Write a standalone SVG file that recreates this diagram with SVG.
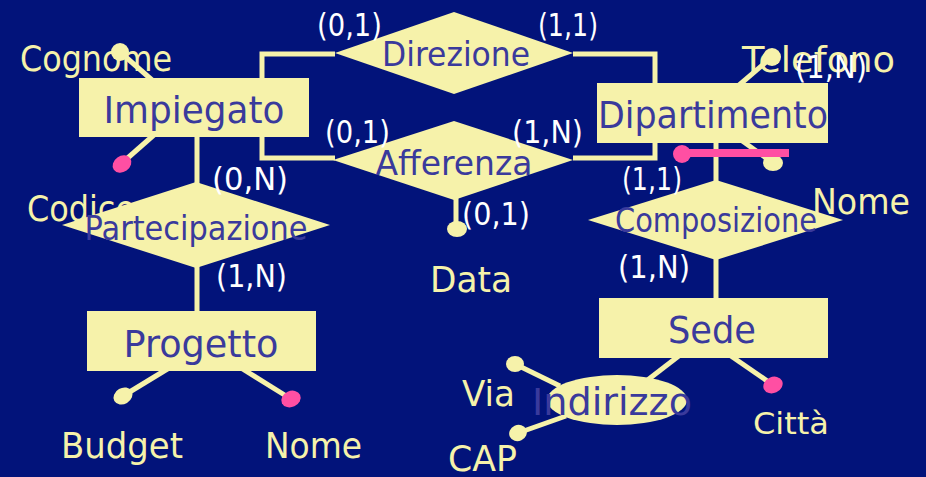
<svg xmlns="http://www.w3.org/2000/svg" width="926" height="477" viewBox="0 0 926 477">
<style>
.bg{fill:#02137a}
.ent{fill:#f6f2aa}
.rel{fill:#f6f2aa}
.ln{stroke:#f6f2aa;stroke-width:5;fill:none;stroke-linecap:butt}
.dot{fill:#f6f2aa}
.key{fill:#ff4fa3}
.keyln{stroke:#ff4fa3;stroke-width:8;fill:none}
.nt{font-family:"DejaVu Sans",sans-serif;fill:#3a3a9c;text-anchor:middle}
.at{font-family:"DejaVu Sans",sans-serif;fill:#f6f2aa}
.cd{font-family:"DejaVu Sans",sans-serif;fill:#ffffff;font-size:32px}
</style>
<rect class="bg" x="0" y="0" width="926" height="477"/>

<g id="attr-labels">
<text class="at" x="20" y="71" font-size="36" textLength="152" lengthAdjust="spacingAndGlyphs">Cognome</text>
<text class="at" x="27" y="221" font-size="36" textLength="108" lengthAdjust="spacingAndGlyphs">Codice</text>
<text class="at" x="742" y="72" font-size="36" textLength="153" lengthAdjust="spacingAndGlyphs">Telefono</text>
<text class="at" x="812" y="214" font-size="36" textLength="98" lengthAdjust="spacingAndGlyphs">Nome</text>
<text class="at" x="430" y="292" font-size="36" textLength="82" lengthAdjust="spacingAndGlyphs">Data</text>
<text class="at" x="61" y="458" font-size="36" textLength="122" lengthAdjust="spacingAndGlyphs">Budget</text>
<text class="at" x="265" y="458" font-size="36" textLength="97" lengthAdjust="spacingAndGlyphs">Nome</text>
<text class="at" x="462" y="406" font-size="36" textLength="53" lengthAdjust="spacingAndGlyphs">Via</text>
<text class="at" x="448" y="471" font-size="36" textLength="69" lengthAdjust="spacingAndGlyphs">CAP</text>
<text class="at" x="753" y="434" font-size="30" textLength="76" lengthAdjust="spacingAndGlyphs">Città</text>
</g>

<g id="connectors">
<polyline class="ln" points="335,54 262,54 262,100"/>
<polyline class="ln" points="262,120 262,158 335,158"/>
<polyline class="ln" points="573,54 655,54 655,100"/>
<polyline class="ln" points="655,120 655,158 573,158"/>
<line class="ln" x1="197" y1="130" x2="197" y2="190"/>
<line class="ln" x1="197" y1="260" x2="197" y2="315"/>
<line class="ln" x1="716" y1="135" x2="716" y2="188"/>
<line class="ln" x1="716" y1="252" x2="716" y2="302"/>
<line class="ln" x1="456" y1="195" x2="456" y2="228"/>
<line class="ln" x1="120" y1="52" x2="152" y2="80"/>
<line class="ln" x1="122" y1="163" x2="155" y2="134"/>
<line class="ln" x1="123" y1="396" x2="169" y2="368"/>
<line class="ln" x1="291" y1="399" x2="241" y2="368"/>
<line class="ln" x1="772" y1="57" x2="738" y2="86"/>
<line class="ln" x1="773" y1="163" x2="741" y2="140"/>
<line class="ln" x1="680" y1="355" x2="645" y2="382"/>
<line class="ln" x1="773" y1="385" x2="731" y2="356"/>
<line class="ln" x1="515" y1="364" x2="560" y2="386"/>
<line class="ln" x1="518" y1="433" x2="566" y2="416"/>
</g>

<g id="attr-dots">
<circle class="dot" cx="120" cy="52" r="9"/>
<ellipse class="key" cx="122" cy="164" rx="10" ry="8" transform="rotate(-35 122 164)"/>
<ellipse class="dot" cx="123" cy="396" rx="10" ry="8" transform="rotate(-30 123 396)"/>
<ellipse class="key" cx="291" cy="399" rx="10" ry="8" transform="rotate(-25 291 399)"/>
<circle class="dot" cx="772" cy="57" r="9"/>
<ellipse class="dot" cx="773" cy="163" rx="10" ry="8"/>
<ellipse class="dot" cx="457" cy="229" rx="10" ry="8"/>
<ellipse class="key" cx="773" cy="385" rx="10" ry="8" transform="rotate(-25 773 385)"/>
<ellipse class="dot" cx="515" cy="364" rx="9" ry="8"/>
<ellipse class="dot" cx="518" cy="433" rx="9" ry="8" transform="rotate(-25 518 433)"/>
<line class="keyln" x1="682" y1="153" x2="789" y2="153"/>
<circle class="key" cx="682" cy="154" r="9"/>
</g>

<g id="Impiegato">
<rect class="ent" x="79" y="78" width="230" height="59"/>
<text class="nt" x="194" y="123" font-size="38" textLength="181" lengthAdjust="spacingAndGlyphs">Impiegato</text>
</g>
<g id="Dipartimento">
<rect class="ent" x="597" y="83" width="231" height="60"/>
<text class="nt" x="713" y="128" font-size="38" textLength="230" lengthAdjust="spacingAndGlyphs">Dipartimento</text>
</g>
<g id="Progetto">
<rect class="ent" x="87" y="311" width="229" height="60"/>
<text class="nt" x="201" y="357" font-size="38" textLength="155" lengthAdjust="spacingAndGlyphs">Progetto</text>
</g>
<g id="Sede">
<rect class="ent" x="599" y="298" width="229" height="60"/>
<text class="nt" x="712" y="343" font-size="38" textLength="88" lengthAdjust="spacingAndGlyphs">Sede</text>
</g>
<g id="Direzione">
<polygon class="rel" points="454,12 573,53 454,94 335,53"/>
<text class="nt" x="456" y="66" font-size="33" textLength="148" lengthAdjust="spacingAndGlyphs">Direzione</text>
</g>
<g id="Afferenza">
<polygon class="rel" points="454,121 573,160 454,200 333,160"/>
<text class="nt" x="454" y="175" font-size="33" textLength="157" lengthAdjust="spacingAndGlyphs">Afferenza</text>
</g>
<g id="Partecipazione">
<polygon class="rel" points="196,182 330,225 196,268 62,225"/>
<text class="nt" x="196" y="240" font-size="33" textLength="223" lengthAdjust="spacingAndGlyphs">Partecipazione</text>
</g>
<g id="Composizione">
<polygon class="rel" points="716,180 843,220 716,260 588,220"/>
<text class="nt" x="716" y="232" font-size="33" textLength="202" lengthAdjust="spacingAndGlyphs">Composizione</text>
</g>
<g id="Indirizzo">
<ellipse class="ent" cx="617" cy="400" rx="70" ry="25"/>
<text class="nt" x="612" y="415" font-size="37" textLength="160" lengthAdjust="spacingAndGlyphs">Indirizzo</text>
</g>

<g id="cardinalities">
<text class="cd" x="317" y="36" textLength="65" lengthAdjust="spacingAndGlyphs">(0,1)</text>
<text class="cd" x="538" y="36" textLength="60" lengthAdjust="spacingAndGlyphs">(1,1)</text>
<text class="cd" x="325" y="143" textLength="65" lengthAdjust="spacingAndGlyphs">(0,1)</text>
<text class="cd" x="512" y="143" textLength="71" lengthAdjust="spacingAndGlyphs">(1,N)</text>
<text class="cd" x="212" y="190" textLength="76" lengthAdjust="spacingAndGlyphs">(0,N)</text>
<text class="cd" x="216" y="287" textLength="71" lengthAdjust="spacingAndGlyphs">(1,N)</text>
<text class="cd" x="462" y="225" textLength="68" lengthAdjust="spacingAndGlyphs">(0,1)</text>
<text class="cd" x="795" y="78" textLength="72" lengthAdjust="spacingAndGlyphs">(1,N)</text>
<text class="cd" x="622" y="190" textLength="60" lengthAdjust="spacingAndGlyphs">(1,1)</text>
<text class="cd" x="618" y="278" textLength="72" lengthAdjust="spacingAndGlyphs">(1,N)</text>
</g>
</svg>
